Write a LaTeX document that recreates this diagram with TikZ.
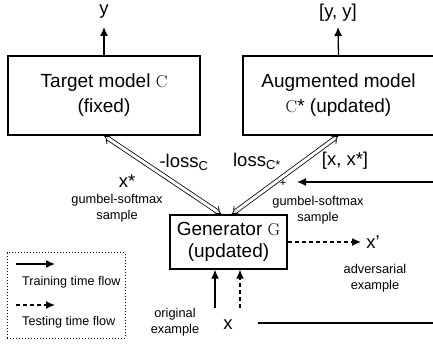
\documentclass[tikz,border=0pt]{standalone}
\usepackage[no-math]{fontspec}
\setmainfont{Liberation Sans}
\usetikzlibrary{arrows.meta,calc}
\begin{document}
\begin{tikzpicture}[x=1pt,y=-1pt,
  box/.style={draw,line width=1.3pt,inner sep=0pt,align=center,font=\fontsize{19}{25}\selectfont},
  lbl/.style={inner sep=0pt,font=\fontsize{18.5}{22}\selectfont},
  sm/.style={inner sep=0pt,align=center,font=\fontsize{12.8}{16}\selectfont},
  flow/.style={line width=1.3pt,-{Latex[length=9pt,width=8pt]}},
  tflow/.style={flow,dash pattern=on 4pt off 3pt},
  dbl/.style={double,double distance=3pt,line width=0.8pt,{Implies}-{Implies}}
]
\useasboundingbox (0,0) rectangle (433,344);
% boxes
\node[box,minimum width=192pt,minimum height=79pt] (target) at (104,95.5) {Target model $\mathrm{C}$\\(fixed)};
\node[box,minimum width=191pt,minimum height=79pt] (aug) at (338.5,95.5) {Augmented model\\$\mathrm{C}$* (updated)};
\node[box,minimum width=117pt,minimum height=54pt,font=\fontsize{19}{22}\selectfont] (gen) at (228.5,242) {Generator $\mathrm{G}$\\(updated)};
% outputs
\node[lbl] (yout) at (104,12) {y};
\node[lbl] (yyout) at (338,13) {[y, y]};
\coordinate (tipY) at (104,27);
\coordinate (tipYY) at (338,27);
\draw[flow] (target.north) -- (tipY);
\draw[flow] (aug.north) -- (tipYY);
% double arrows
\draw[dbl] ($(gen.north)+(-7,0)$) -- (target.south);
\draw[dbl] ($(gen.north)+(3,0)$) -- (aug.south);
% labels
\node[lbl] (lossc) at (184,162) {-loss\textsubscript{C}};
\node[lbl] (losscs) at (257,161) {loss\textsubscript{C*}};
\node[lbl] (xxs) at (345,161) {[x, x*]};
\node[lbl] (xs) at (127,181) {x*};
\node[sm] (gl) at (117,208) {gumbel-softmax\\sample};
\node[sm] (gr) at (318,210) {gumbel-softmax\\sample};
\node[inner sep=0pt,font=\fontsize{11}{12}\selectfont] (plus) at (283,183) {+};
% input from right
\coordinate (inR) at (434,182);
\coordinate (inTip) at (297,182);
\draw[flow] (inR) -- (inTip);
% adversarial output
\node[lbl] (xp) at (373,242) {x'};
\coordinate (advTip) at (361,242);
\draw[tflow] (gen.east) -- (advTip);
\node[sm] (adv) at (375,278) {adversarial\\example};
% inputs below
\coordinate (inA) at (215,308);
\coordinate (inB) at (240,308);
\draw[flow] (inA) -- ($(gen.south)+(-13.5,0)$);
\draw[tflow] (inB) -- ($(gen.south)+(11.5,0)$);
\node[sm] (orig) at (175,322) {original\\example};
\node[lbl] (xin) at (228,325) {x};
\coordinate (lineA) at (258,323);
\coordinate (lineB) at (434,323);
\draw[line width=1.3pt] (lineA) -- (lineB);
% legend
\node[draw,dotted,line width=1pt,inner sep=0pt,minimum width=118pt,minimum height=85pt] (legend) at (66,295.5) {};
\coordinate (l1a) at (16,264);
\coordinate (l1b) at (55,264);
\coordinate (l2a) at (16,305);
\coordinate (l2b) at (55,305);
\draw[flow] (l1a) -- (l1b);
\draw[tflow] (l2a) -- (l2b);
\node[sm,anchor=west,font=\fontsize{12.6}{15}\selectfont] (t1) at (22,282) {Training time flow};
\node[sm,anchor=west,font=\fontsize{12.6}{15}\selectfont] (t2) at (22,322) {Testing time flow};
\end{tikzpicture}
\end{document}
